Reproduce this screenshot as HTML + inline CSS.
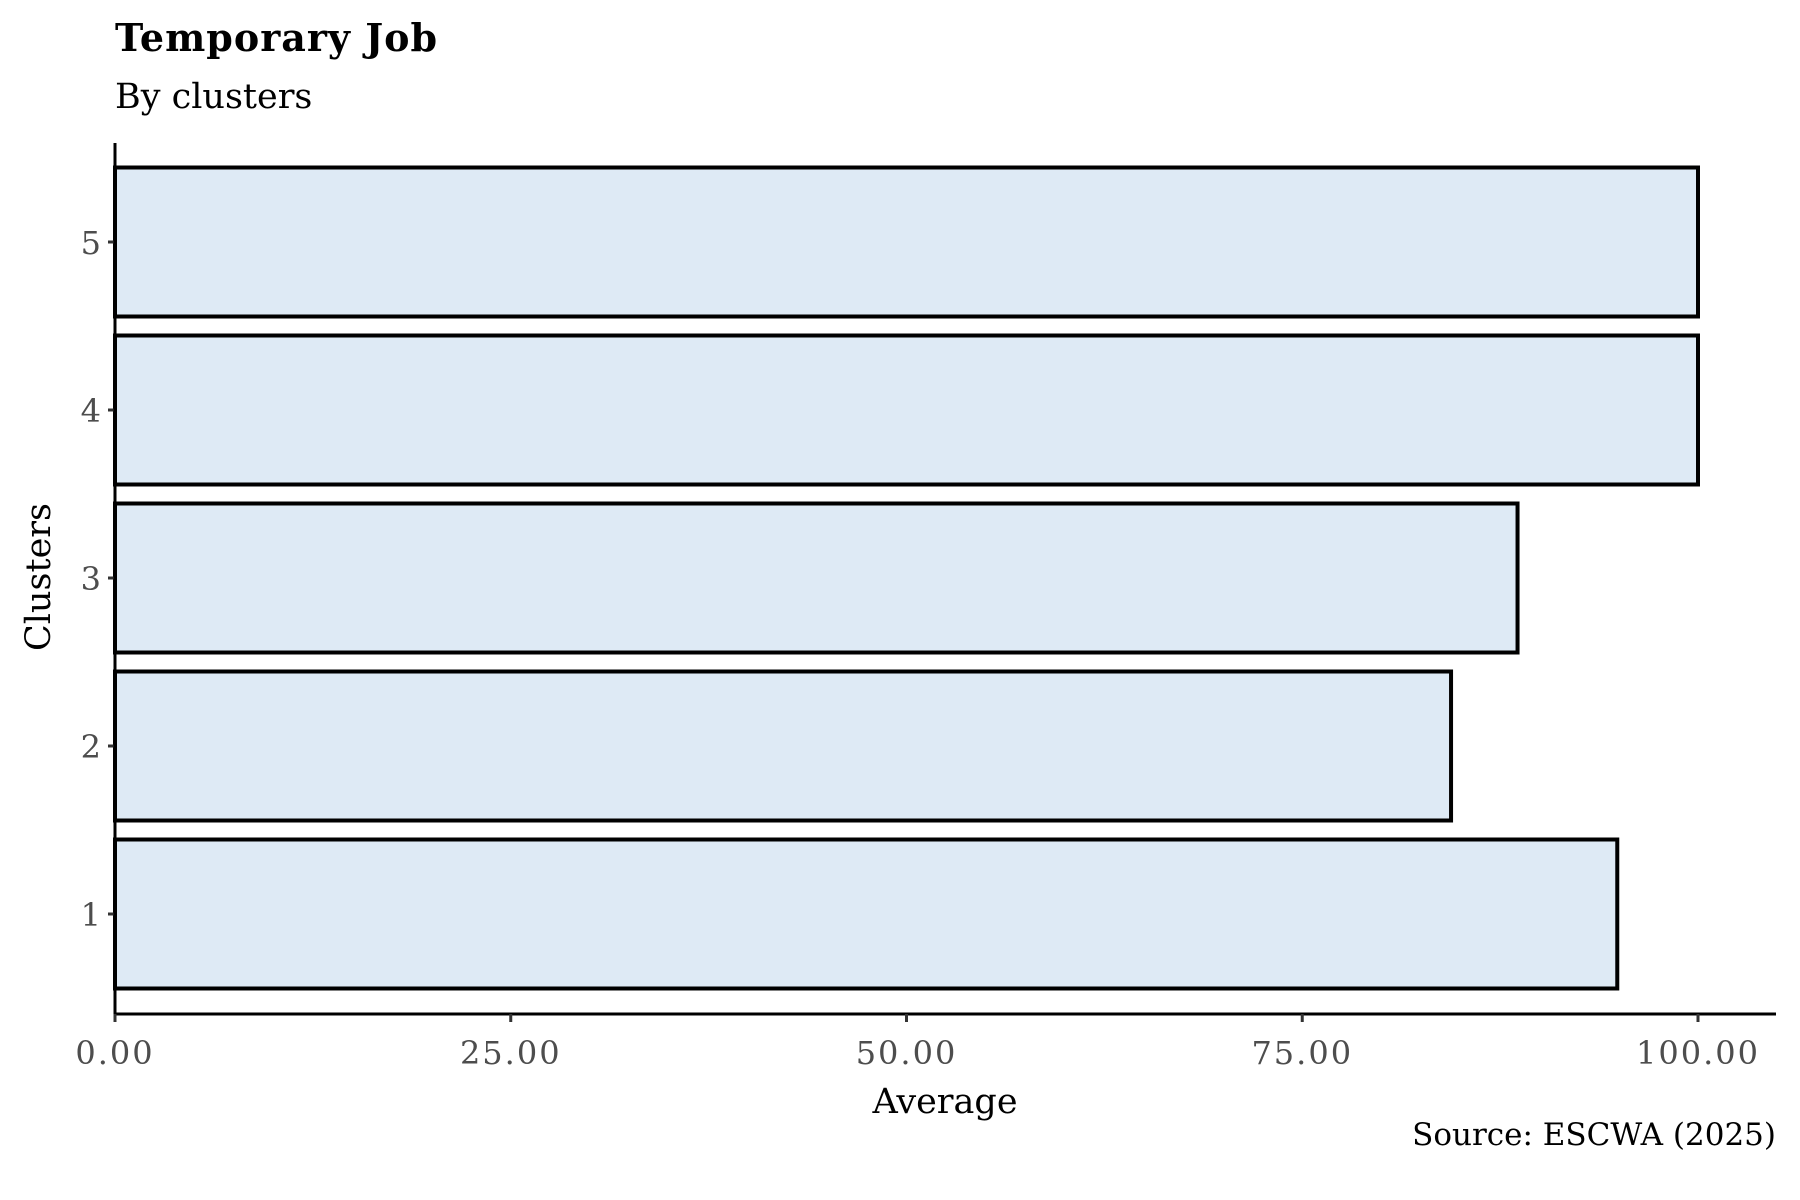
<!DOCTYPE html>
<html><head><meta charset="utf-8"><style>
html,body{margin:0;padding:0;background:#fff;}
svg{display:block;font-family:"DejaVu Serif","Liberation Serif",serif;}
</style></head><body>
<svg id="chart" width="1800" height="1200" viewBox="0 0 1800 1200">
<text x="115" y="51" font-size="38" font-weight="bold" letter-spacing="1" fill="#000">Temporary Job</text>
<text x="115" y="108" font-size="35" fill="#000">By clusters</text>
<g id="bars"></g>
<g id="axes"></g>
<text x="945" y="1113" font-size="35" text-anchor="middle" fill="#000">Average</text>
<text transform="translate(50,577) rotate(-90)" font-size="35" text-anchor="middle" fill="#000">Clusters</text>
<text x="1776" y="1145" font-size="31" text-anchor="end" fill="#000">Source: ESCWA (2025)</text>
</svg>
<script>
const categories = ["1","2","3","4","5"];
const values = [94.9, 84.4, 88.6, 100, 100];
const xTicks = [0, 25, 50, 75, 100];
const xTickLabels = ["0.00","25.00","50.00","75.00","100.00"];

const NS="http://www.w3.org/2000/svg";
const x0=115, x100=1698, axisY=1014, yTop=143;
const xScale=v=>x0+(x100-x0)*v/100;
const step=168, c1=914;
const yScale=i=>c1-i*step;
const bh=149;
function mk(tag,attrs,parent){const e=document.createElementNS(NS,tag);for(const k in attrs)e.setAttribute(k,attrs[k]);parent.appendChild(e);return e;}
const bars=document.getElementById('bars'), axes=document.getElementById('axes');
categories.forEach((c,i)=>{
  const r=mk('rect',{x:x0,y:yScale(i)-bh/2,width:xScale(values[i])-x0,height:bh,fill:"#deeaf5",stroke:"#000","stroke-width":4},bars);
  
  
  const t=mk('line',{x1:x0-7,x2:x0,y1:yScale(i),y2:yScale(i),stroke:"#333","stroke-width":3},axes);
  
  
  const l=mk('text',{x:x0-14,y:yScale(i)+12,"font-size":32,"text-anchor":"end",fill:"#4d4d4d"},axes);
  l.textContent=c;
  
  
});
const ya=mk('line',{x1:x0,x2:x0,y1:yTop,y2:axisY,stroke:"#000","stroke-width":3},axes);


const xa=mk('line',{x1:x0-1,x2:1776,y1:axisY,y2:axisY,stroke:"#000","stroke-width":3},axes);


xTicks.forEach((v,i)=>{
  const t=mk('line',{x1:xScale(v),x2:xScale(v),y1:axisY,y2:axisY+8,stroke:"#333","stroke-width":3},axes);
  
  
  const l=mk('text',{x:xScale(v),y:1064,"font-size":32,"letter-spacing":2,"text-anchor":"middle",fill:"#4d4d4d"},axes);
  l.textContent=xTickLabels[i];
  
  
});
</script>
</body></html>
